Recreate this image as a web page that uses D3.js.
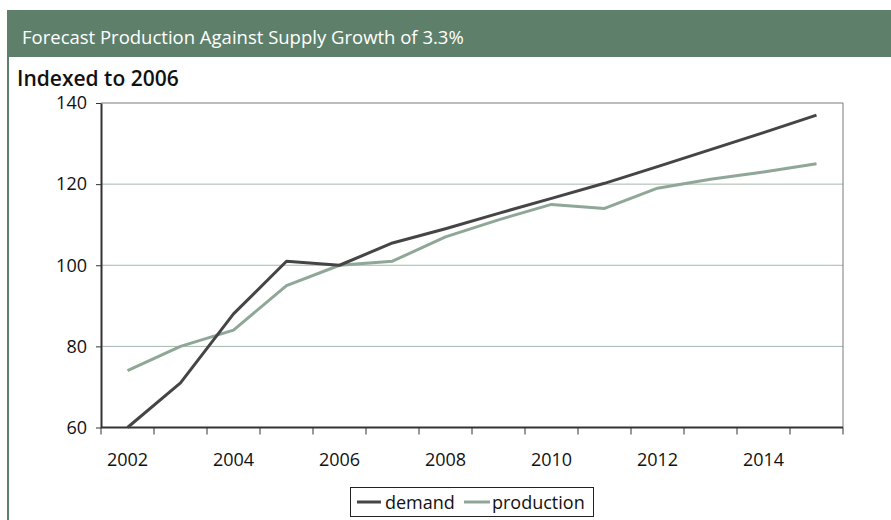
<!DOCTYPE html>
<html>
<head>
<meta charset="utf-8">
<script src="https://cdn.jsdelivr.net/npm/d3@7"></script>
<style>
  html, body { margin: 0; padding: 0; background: #fff; }
  svg { display: block; font-family: "Open Sans", "DejaVu Sans", sans-serif; }
</style>
</head>
<body>
<svg id="chart" width="891" height="520"></svg>
<script>
// Years on the category axis
const years = [2002, 2003, 2004, 2005, 2006, 2007, 2008, 2009, 2010, 2011, 2012, 2013, 2014, 2015];
// Index values (2006 = 100)
const demand = [60, 71, 88, 101, 100, 105.5, 109, 112.8, 116.5, 120.2, 124.3, 128.5, 132.7, 137];
const production = [74, 80, 84, 95, 100, 101, 107, 111.2, 115, 114, 119, 121.2, 123, 125];
const yTicks = [60, 80, 100, 120, 140];
const xLabelYears = [2002, 2004, 2006, 2008, 2010, 2012, 2014];
const seriesNames = ["demand", "production"];

const svg = d3.select("#chart");
const green = "#5e806b";

// Header band and left frame
svg.append("rect").attr("x", 7).attr("y", 10).attr("width", 884).attr("height", 47).attr("fill", green);
svg.append("line").attr("x1", 8).attr("x2", 8).attr("y1", 56).attr("y2", 520)
  .attr("stroke", green).attr("stroke-width", 2);
svg.append("text").attr("x", 22).attr("y", 44).attr("fill", "#fff")
  .attr("font-size", 18.5).text("Forecast Production Against Supply Growth of 3.3%");
svg.append("text").attr("x", 17).attr("y", 86).attr("fill", "#111")
  .attr("font-size", 21).attr("font-weight", 600).text("Indexed to 2006");

const plotLeft = 101, plotRight = 843, plotTop = 103, plotBottom = 427.5;

const x = d3.scaleBand().domain(years).range([plotLeft, plotRight]).paddingInner(0).paddingOuter(0);
const y = d3.scaleLinear().domain([60, 140]).range([plotBottom, plotTop]);
const cx = d => x(d) + x.bandwidth() / 2;

// Horizontal gridlines
svg.append("g").selectAll("line").data(yTicks.filter(v => v > 60 && v < 140)).join("line")
  .attr("x1", plotLeft).attr("x2", plotRight).attr("y1", d => y(d)).attr("y2", d => y(d))
  .attr("stroke", "#a3b8ab").attr("stroke-width", 1);

// Plot frame: top and right edges
svg.append("line").attr("x1", plotLeft).attr("x2", plotRight).attr("y1", y(140)).attr("y2", y(140))
  .attr("stroke", "#7a7a7a").attr("stroke-width", 1);
svg.append("line").attr("x1", plotRight).attr("x2", plotRight).attr("y1", plotTop).attr("y2", plotBottom)
  .attr("stroke", "#7a7a7a").attr("stroke-width", 1);

// Y axis
const yAxis = svg.append("g").attr("transform", `translate(${plotLeft},0)`)
  .call(d3.axisLeft(y).tickValues(yTicks).tickSize(5).tickPadding(9).tickSizeOuter(0));
yAxis.select(".domain").attr("stroke", "#333").attr("stroke-width", 2);
yAxis.selectAll(".tick line").attr("stroke", "#333");
yAxis.selectAll("text").attr("font-size", 18).attr("fill", "#111").attr("font-family", "Open Sans, sans-serif");

// X axis: ticks on band boundaries, labels every other year
const boundaries = years.map(d => x(d)).concat([plotRight]);
const xg = svg.append("g");
xg.append("line").attr("x1", plotLeft).attr("x2", plotRight).attr("y1", plotBottom).attr("y2", plotBottom)
  .attr("stroke", "#333").attr("stroke-width", 2);
xg.selectAll("line.tk").data(boundaries).join("line").attr("class", "tk")
  .attr("x1", d => d).attr("x2", d => d).attr("y1", plotBottom).attr("y2", plotBottom + 7)
  .attr("stroke", "#333").attr("stroke-width", 1);
xg.selectAll("text").data(xLabelYears).join("text")
  .attr("x", d => cx(d)).attr("y", 466).attr("text-anchor", "middle")
  .attr("font-size", 18).attr("fill", "#111").text(d => d);

// Series lines
const colors = { demand: "#454545", production: "#8ea797" };
const line = d3.line().x((d, i) => cx(years[i])).y(d => y(d));
svg.append("path").datum(production).attr("d", line).attr("fill", "none")
  .attr("stroke", colors.production).attr("stroke-width", 3).attr("stroke-linejoin", "round");
svg.append("path").datum(demand).attr("d", line).attr("fill", "none")
  .attr("stroke", colors.demand).attr("stroke-width", 3).attr("stroke-linejoin", "round");

// Legend
const lg = svg.append("g");
lg.append("rect").attr("x", 350.5).attr("y", 487.5).attr("width", 243).attr("height", 29)
  .attr("fill", "#fff").attr("stroke", "#222").attr("stroke-width", 1);
const legendItems = [
  { name: seriesNames[0], x1: 357, x2: 381, tx: 385 },
  { name: seriesNames[1], x1: 464, x2: 490, tx: 492 }
];
legendItems.forEach(it => {
  lg.append("line").attr("x1", it.x1).attr("x2", it.x2).attr("y1", 502).attr("y2", 502)
    .attr("stroke", colors[it.name]).attr("stroke-width", 3);
  lg.append("text").attr("x", it.tx).attr("y", 509).attr("font-size", 18).attr("fill", "#111").text(it.name);
});
</script>
</body>
</html>
